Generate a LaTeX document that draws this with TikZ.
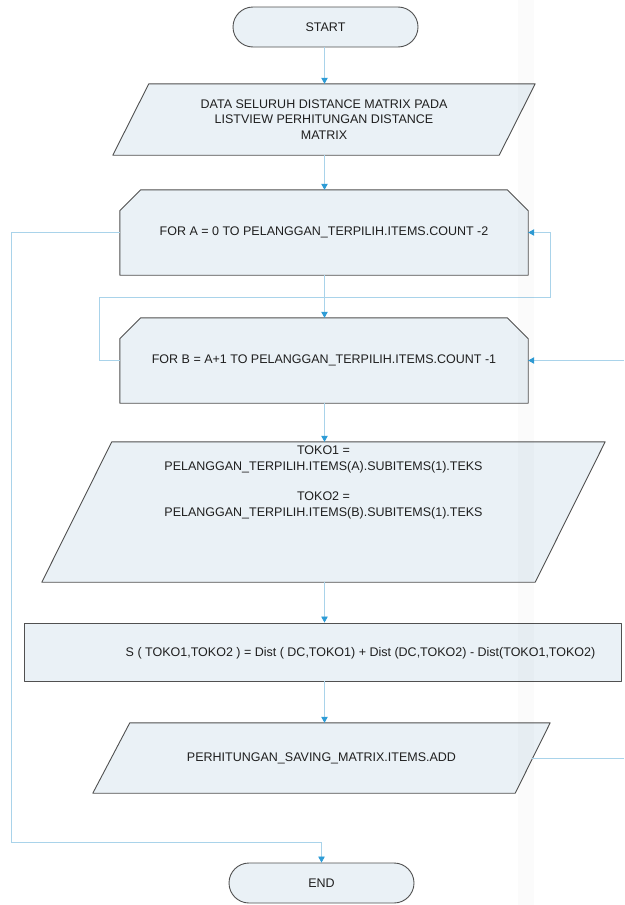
\documentclass[tikz,border=0pt]{standalone}
\usepackage{fontspec}
\setmainfont{Liberation Sans}
\usetikzlibrary{arrows.meta,calc,backgrounds}
\definecolor{boxfill}{HTML}{EAF1F6}
\definecolor{boxline}{HTML}{505050}
\definecolor{wire}{HTML}{A9D3EA}
\definecolor{tipblue}{HTML}{2E9CD6}
\definecolor{ink}{HTML}{1F1F1F}

\begin{document}
\begin{tikzpicture}[x=1pt,y=-1pt,
  every node/.style={font=\fontsize{12.5}{15.3}\selectfont, text=ink, align=center},
  holder/.style={rectangle, inner sep=0pt},
  outline/.style={draw=boxline, fill=boxfill, line width=0.9pt, line join=round},
  terminal/.style={outline, rectangle, rounded corners=20pt, inner sep=0pt,
                   minimum width=185pt, minimum height=40pt},
  wireline/.style={draw=wire, line width=0.7pt},
  flow/.style={wireline, -{Triangle[length=6pt,width=6.5pt,color=tipblue]}}]

\useasboundingbox (0,0) rectangle (624,905);

% ---- blocks ----
\node[terminal] (start) at (325.5,27) {START};

\node[holder, minimum width=422pt, minimum height=71pt] (data) at (324,119.5)
  {DATA SELURUH DISTANCE MATRIX PADA\\LISTVIEW PERHITUNGAN DISTANCE\\MATRIX};

\node[holder, minimum width=408pt, minimum height=85pt] (fora) at (324,232.5)
  {FOR A = 0 TO PELANGGAN\_TERPILIH.ITEMS.COUNT -2};

\node[holder, minimum width=408pt, minimum height=85pt] (forb) at (324,360.5)
  {FOR B = A+1 TO PELANGGAN\_TERPILIH.ITEMS.COUNT -1};

\node[holder, minimum width=563pt, minimum height=140pt] (toko) at (323.5,512) {};
\node (tokotext) at (323.5,482.5)
  {TOKO1 =\\PELANGGAN\_TERPILIH.ITEMS(A).SUBITEMS(1).TEKS\\[15.3pt]
   TOKO2 =\\PELANGGAN\_TERPILIH.ITEMS(B).SUBITEMS(1).TEKS};

\node[outline, rectangle, inner sep=0pt, minimum width=597pt, minimum height=58pt]
  (sbox) at (322.5,652) {};
\node (stext) at (360.5,653)
  {S ( TOKO1,TOKO2 ) = Dist ( DC,TOKO1) + Dist (DC,TOKO2) - Dist(TOKO1,TOKO2)};

\node[holder, minimum width=457pt, minimum height=70pt] (out) at (321.5,758)
  {PERHITUNGAN\_SAVING\_MATRIX.ITEMS.ADD};

\node[terminal] (end) at (321.5,883) {END};

% ---- outlines of the input/output and loop blocks ----
\begin{pgfonlayer}{background}
  \path[outline] ([xshift=36pt]data.north west) -- (data.north east)
    -- ([xshift=-36pt]data.south east) -- (data.south west) -- cycle;
  \path[outline] ([xshift=21pt]fora.north west) -- ([xshift=-21pt]fora.north east)
    -- ([yshift=-21pt]fora.north east) -- (fora.south east) -- (fora.south west)
    -- ([yshift=-21pt]fora.north west) -- cycle;
  \path[outline] ([xshift=21pt]forb.north west) -- ([xshift=-21pt]forb.north east)
    -- ([yshift=-21pt]forb.north east) -- (forb.south east) -- (forb.south west)
    -- ([yshift=-21pt]forb.north west) -- cycle;
  \path[outline] ([xshift=70pt]toko.north west) -- (toko.north east)
    -- ([xshift=-70pt]toko.south east) -- (toko.south west) -- cycle;
  \path[outline] ([xshift=37pt]out.north west) -- (out.north east)
    -- ([xshift=-35pt]out.south east) -- (out.south west) -- cycle;
\end{pgfonlayer}

% ---- connectors ----
\coordinate (spine) at (324.5,0);
\coordinate (leftrail) at (11,842);
\coordinate (bleft) at (99,297);
\coordinate (bright) at (550,232.5);
\coordinate (edgeb) at (624,360.5);
\coordinate (edgeo) at (624,758);

\draw[flow] (spine |- start.south) -- (spine |- data.north);
\draw[flow] (spine |- data.south) -- (spine |- fora.north);
\draw[flow] (spine |- fora.south) -- (spine |- forb.north);
\draw[flow] (spine |- forb.south) -- (spine |- toko.north);
\draw[flow] (spine |- toko.south) -- (spine |- sbox.north);
\draw[flow] (spine |- sbox.south) -- (spine |- out.north);

% outer loop finished: down the left side to END
\draw[flow] (fora.west) -| (leftrail) -| (end.north);
% inner loop finished: back to the outer loop
\draw[flow] (forb.west) -| (bleft) -| (bright) -- (fora.east);
% return into the inner loop
\draw[flow] (edgeb) -- (forb.east);
\draw[wireline] ([xshift=-18pt]out.east) -- (edgeo);

% faint vertical shading band
\fill[black, opacity=0.015] (518,0) rectangle (534,905);
\end{tikzpicture}
\end{document}
